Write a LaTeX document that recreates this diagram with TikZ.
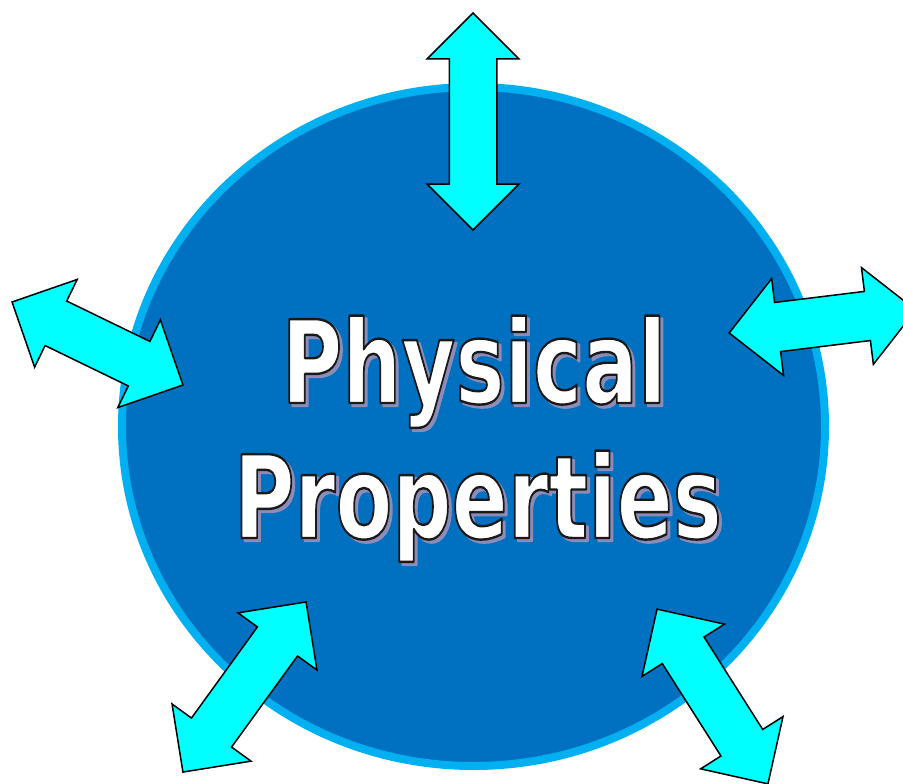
\documentclass[tikz,border=0pt]{standalone}
\usepackage{fontspec}
\usetikzlibrary{shapes.geometric,shapes.arrows}
\newfontfamily\labelfont{DejaVu Sans}
\definecolor{coreblue}{RGB}{0,112,192}
\definecolor{rimblue}{RGB}{0,176,240}
\definecolor{arrowcyan}{RGB}{0,255,255}
\definecolor{shadowgray}{RGB}{140,140,185}
% filled and stroked glyphs (text render mode 2)
\newcommand\outlined[2]{\special{pdf:literal direct 2 Tr 2.4 w 1 j #1 RG}#2\special{pdf:literal direct 0 Tr}}

\begin{document}
\begin{tikzpicture}[x=1pt, y=-1pt,
       core/.style={ellipse,draw=rimblue,line width=8pt,fill=coreblue,
      minimum width=703pt,minimum height=679pt,inner sep=0pt},
        link/.style={double arrow,draw=black,line width=1.5pt,fill=arrowcyan,
      double arrow head extend=24pt,inner xsep=0pt,inner ysep=24pt,
      minimum height=#1},
        heading/.style={anchor=base,inner sep=0pt,
      font=\labelfont\bfseries\fontsize{115}{135}\selectfont}]

        \useasboundingbox (0,0) rectangle (903,784);
        \clip (0,0) rectangle (903,784);

	\node [core] (disc) at (473.5,426.5) {};

        % arrows round the disc
        \node [link=217pt, rotate=90, inner ysep=23pt, double arrow head extend=22pt]
                                         (north)     at (473,121.5)   {};
        \node [link=190pt, rotate=-25.9] (west)      at (97.5,343.5)  {};
        \node [link=188pt, rotate=7]     (east)      at (822.5,321.5) {};
        \node [link=210pt, rotate=54.1]  (southwest) at (244.5,687)   {};
        \node [link=207pt, rotate=-57.6] (southeast) at (712.5,696.5) {};

        % shadow, then outlined white text
        \node [heading, text=shadowgray] (shade1) at (477,406)
          {\scalebox{0.72}[1]{\outlined{0.55 0.55 0.73}{Physical}}};
        \node [heading, text=shadowgray] (shade2) at (481,541)
          {\scalebox{0.72}[1]{\outlined{0.55 0.55 0.73}{Properties}}};
        \node [heading, text=white] (line1) at (474,403)
          {\scalebox{0.72}[1]{\outlined{0.1 0.1 0.1}{Physical}}};
        \node [heading, text=white] (line2) at (478,538)
          {\scalebox{0.72}[1]{\outlined{0.1 0.1 0.1}{Properties}}};
\end{tikzpicture}
\end{document}
